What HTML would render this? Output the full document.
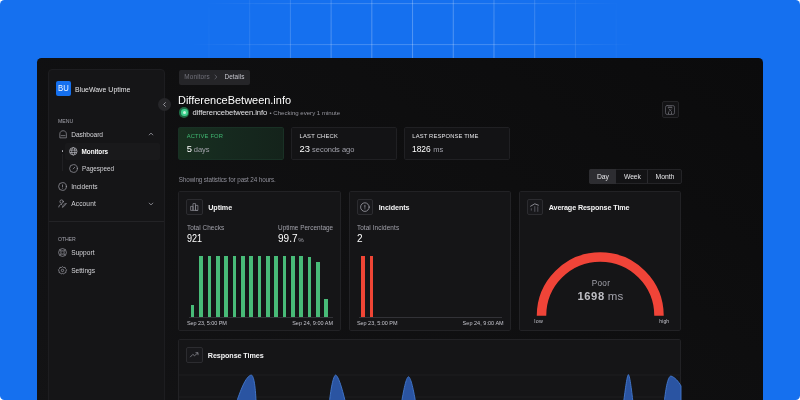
<!DOCTYPE html>
<html lang="en">
<head>
<meta charset="utf-8">
<title>BlueWave Uptime - Monitor details</title>
<style>
*{box-sizing:border-box;margin:0;padding:0}
html,body{width:800px;height:400px;overflow:hidden;background:#fff}
body{font-family:"Liberation Sans",sans-serif;position:relative}
.a{position:absolute}
.t{position:absolute;white-space:nowrap;display:block}
#bg{left:0;top:0;width:800px;height:400px;background:#1570ef;border-radius:4.5px;overflow:hidden}
#grid{left:0;top:0;width:800px;height:60px;
 background-image:
  linear-gradient(to right,rgba(255,255,255,.27) 0,rgba(255,255,255,.27) 1px,transparent 1px),
  linear-gradient(to bottom,rgba(255,255,255,.22) 0,rgba(255,255,255,.22) 1px,transparent 1px);
 background-size:40.73px 41px,40.73px 41px;
 background-position:4.87px 0,0 3.1px;
 -webkit-mask-image:radial-gradient(ellipse 225px 150px at 413px 58px,#000 0%,rgba(0,0,0,.95) 35%,rgba(0,0,0,.6) 62%,rgba(0,0,0,.22) 84%,transparent 100%);
 mask-image:radial-gradient(ellipse 225px 150px at 413px 58px,#000 0%,rgba(0,0,0,.95) 35%,rgba(0,0,0,.6) 62%,rgba(0,0,0,.22) 84%,transparent 100%);
}
#win{left:36.7px;top:57.8px;width:726.5px;height:360px;border-radius:4.5px 4.5px 0 0;
 background:linear-gradient(215deg,#0b0b0c 0%,#0e0e0f 35%,#131315 100%)}
#side{left:48px;top:68.5px;width:117px;height:350px;border:1px solid #1d1d20;border-radius:4px 4px 0 0;background:#151517}
#logo{left:56px;top:81px;width:15.2px;height:15px;border-radius:2px;background:#1570ef;color:#f0f6ff;font-size:9.2px;line-height:15.2px;text-align:center}
#logo span{display:inline-block;transform:scaleX(.84)}
#collapse{left:158.2px;top:98.1px;width:13px;height:13px;border-radius:50%;background:#262629}
#rowhl{left:64.5px;top:142.5px;width:95.5px;height:17.2px;border-radius:2px;background:#19191b}
#treedot{left:61.5px;top:150.3px;width:1.4px;height:1.4px;border-radius:50%;background:#b4b4bc}
#treeline{left:61.8px;top:153.5px;width:.8px;height:17px;background:#202023}
#sdiv{left:49px;top:221px;width:115px;height:1px;background:#232326}
.icon{position:absolute;overflow:visible}
#crumb{left:178.5px;top:69.5px;width:71.5px;height:15.2px;border-radius:2px;background:#252528}
.card{position:absolute;border:1px solid #222225;border-radius:1.8px;background:#151517}
.ibox{position:absolute;width:16.5px;height:16px;border:1px solid #2c2c30;border-radius:2px;background:#18181b}
#seg{left:589.3px;top:169.1px;width:92.3px;height:14.7px;border:1px solid #242427;border-radius:2px;background:#131315}
#segday{left:589.3px;top:169.1px;width:26.5px;height:14.7px;border-radius:2px 0 0 2px;background:#2d2d31}
.bar{position:absolute;width:3.7px;bottom:0}
</style>
</head>
<body>
<div id="bg" class="a">
<div id="grid" class="a"></div>
<div id="win" class="a"></div>
</div>
<div id="side" class="a"></div>
<div id="logo" class="a"><span>BU</span></div>
<div id="sdiv" class="a"></div>
<div id="rowhl" class="a"></div>
<div id="treedot" class="a"></div>
<div id="treeline" class="a"></div>
<div id="collapse" class="a"></div>
<svg class="icon" style="left:158.2px;top:98.1px" width="13" height="13" viewBox="0 0 13 13"><path d="M7.4 4.6 L5.5 6.5 L7.4 8.4" fill="none" stroke="#a8a8b0" stroke-width="0.85" stroke-linecap="round" stroke-linejoin="round"/></svg>

<!-- sidebar icons -->
<svg class="icon" style="left:58.9px;top:129.9px" width="8.2" height="8.2" viewBox="0 0 9 9" fill="none" stroke="#9c9ca4" stroke-width="0.72" stroke-linejoin="round" stroke-linecap="round"><path d="M0.9 8.2 V4.3 C0.9 2.2 2.5 0.8 4.5 0.8 C6.5 0.8 8.1 2.2 8.1 4.3 V8.2 Z"/><path d="M2.4 6.2 H6.6"/></svg>
<svg class="icon" style="left:148.1px;top:131.4px" width="6" height="6" viewBox="0 0 6 6" fill="none" stroke="#a1a1aa" stroke-width="0.8" stroke-linecap="round" stroke-linejoin="round"><path d="M1.2 3.9 L3 2.1 L4.8 3.9"/></svg>
<svg class="icon" style="left:69.1px;top:147.1px" width="8.6" height="8.6" viewBox="0 0 9 9" fill="none" stroke="#c0c0c8" stroke-width="0.7"><circle cx="4.5" cy="4.5" r="3.9"/><ellipse cx="4.5" cy="4.5" rx="1.7" ry="3.9"/><path d="M0.8 3.3 H8.2 M0.8 5.7 H8.2"/></svg>
<svg class="icon" style="left:69.1px;top:164.3px" width="9" height="9" viewBox="0 0 9 9" fill="none" stroke="#9c9ca4" stroke-width="0.72" stroke-linecap="round"><circle cx="4.5" cy="4.5" r="3.9"/><path d="M4.2 4.9 L5.8 3.2"/></svg>
<svg class="icon" style="left:58.4px;top:181.6px" width="9" height="9" viewBox="0 0 9 9" fill="none" stroke="#9c9ca4" stroke-width="0.72" stroke-linecap="round"><circle cx="4.5" cy="4.5" r="3.9"/><path d="M4.5 2.9 V4.7 M4.5 6.1 V6.2"/></svg>
<svg class="icon" style="left:58.4px;top:199.2px" width="9" height="9" viewBox="0 0 9 9" fill="none" stroke="#9c9ca4" stroke-width="0.72" stroke-linecap="round" stroke-linejoin="round"><circle cx="3.6" cy="2.6" r="1.7"/><path d="M0.8 8 C0.9 6.2 2 5.4 3.6 5.4"/><path d="M4.6 8 L5.1 6.5 L7.6 4 L8.4 4.8 L5.9 7.3 Z"/></svg>
<svg class="icon" style="left:147.8px;top:200.6px" width="6" height="6" viewBox="0 0 6 6" fill="none" stroke="#a1a1aa" stroke-width="0.8" stroke-linecap="round" stroke-linejoin="round"><path d="M1.2 2.1 L3 3.9 L4.8 2.1"/></svg>
<svg class="icon" style="left:58.4px;top:248.2px" width="9" height="9" viewBox="0 0 9 9" fill="none" stroke="#9c9ca4" stroke-width="0.72"><circle cx="4.5" cy="4.5" r="3.9"/><rect x="2.9" y="2.9" width="3.2" height="3.2" rx="0.5"/><path d="M1.8 1.8 L2.9 2.9 M7.2 1.8 L6.1 2.9 M1.8 7.2 L2.9 6.1 M7.2 7.2 L6.1 6.1"/></svg>
<svg class="icon" style="left:58.4px;top:265.7px" width="9" height="9" viewBox="0 0 9 9" fill="none" stroke="#9c9ca4" stroke-width="0.72" stroke-linejoin="round"><path d="M4.5 0.6 L5.6 1.5 L7.1 1.4 L7.5 2.8 L8.6 3.8 L7.9 5.1 L8 6.5 L6.6 6.9 L5.6 8 L4.5 7.4 L3.4 8 L2.4 6.9 L1 6.5 L1.1 5.1 L0.4 3.8 L1.5 2.8 L1.9 1.4 L3.4 1.5 Z"/><circle cx="4.5" cy="4.4" r="1.2"/></svg>

<!-- breadcrumb -->
<div id="crumb" class="a"></div>
<svg class="icon" style="left:213.2px;top:74.2px" width="6" height="6" viewBox="0 0 6 6" fill="none" stroke="#71717a" stroke-width="0.7" stroke-linecap="round" stroke-linejoin="round"><path d="M2 1.2 L3.9 3 L2 4.8"/></svg>

<!-- status dot -->
<div class="a" style="left:179.3px;top:107.4px;width:10.2px;height:10.2px;border-radius:50%;background:#1f6b45"></div>
<div class="a" style="left:181.1px;top:109.2px;width:6.6px;height:6.6px;border-radius:50%;background:#3ecf8e"></div>
<div class="a" style="left:182.9px;top:111px;width:3px;height:3px;border-radius:50%;background:#c8f5dd"></div>

<!-- top-right icon button -->
<div class="ibox" style="left:662.3px;top:101.2px;width:16.8px;height:16.8px;background:#131315;border-color:#252528"></div>
<svg class="icon" style="left:664.8px;top:105.1px" width="10" height="10" viewBox="0 0 10 10" fill="none" stroke="#64646c" stroke-width="0.75" stroke-linecap="round" stroke-linejoin="round"><rect x="0.5" y="0.5" width="9" height="9" rx="1.7"/><path d="M3.2 2.2 H6.9" stroke="#9a9aa2"/><path d="M3.9 3.9 L6.6 6.6 M6.6 3.9 L3.9 6.6"/><circle cx="3.5" cy="8" r="0.6" fill="#b4b4bc" stroke="none"/><circle cx="6.5" cy="8" r="0.6" fill="#b4b4bc" stroke="none"/></svg>

<!-- stat cards -->
<div class="card" style="left:178.3px;top:127px;width:105.5px;height:33px;border-color:#193125;background:linear-gradient(90deg,#18301f 0%,#162a1f 40%,#14231b 100%)"></div>
<div class="card" style="left:291.2px;top:127px;width:105.4px;height:33px;background:#131315;border-color:#202023"></div>
<div class="card" style="left:404px;top:127px;width:105.5px;height:33px;background:#131315;border-color:#202023"></div>

<!-- segmented control -->
<div id="seg" class="a"></div>
<div id="segday" class="a"></div>
<div class="a" style="left:647.3px;top:169.7px;width:1px;height:13.4px;background:#2a2a2e"></div>

<!-- main cards -->
<div class="card" style="left:178.2px;top:191px;width:162.6px;height:140.2px"></div>
<div class="card" style="left:348.8px;top:191px;width:162.5px;height:140.2px"></div>
<div class="card" style="left:519.1px;top:191px;width:162.4px;height:140.2px"></div>
<div class="card" style="left:178.2px;top:338.9px;width:503.3px;height:80px"></div>

<div class="ibox" style="left:186px;top:199.2px"></div>
<div class="ibox" style="left:356.7px;top:199.2px"></div>
<div class="ibox" style="left:527.3px;top:199.2px;width:15.6px"></div>
<div class="ibox" style="left:186px;top:347px;width:16.8px;height:16.4px"></div>
<!-- card icons -->
<svg class="icon" style="left:186.2px;top:199px" width="16.5" height="16" viewBox="0 0 16.5 16" fill="none" stroke="#8e8e96" stroke-width="0.72" stroke-linejoin="round"><path d="M4.6 11.4 V7.4 H7 V11.4 M7 11.4 V4.6 H9.5 V11.4 M9.5 11.4 V6.4 H11.9 V11.4 Z M4.6 11.4 H11.9"/></svg>
<svg class="icon" style="left:356.6px;top:199px" width="16.5" height="16" viewBox="0 0 16.5 16" fill="none" stroke="#a1a1aa" stroke-width="0.8" stroke-linecap="round"><circle cx="7.9" cy="8.1" r="4.3"/><path d="M7.9 6.3 V8.3 M7.9 9.8 V9.9"/></svg>
<svg class="icon" style="left:527.1px;top:199.2px" width="16.5" height="16" viewBox="0 0 16.5 16" fill="none" stroke="#a6a6ae" stroke-width="0.8" stroke-linecap="round" stroke-linejoin="round"><path d="M3.6 7.2 L7.8 4.8 L11.4 6.2"/><path d="M4.3 9.7 V11.2 M7.8 7.6 V12.4 M10.8 7.8 V12.4" stroke="#66666e"/></svg>
<svg class="icon" style="left:186.1px;top:347.1px" width="16.5" height="16" viewBox="0 0 16.5 16" fill="none" stroke="#8e8e96" stroke-width="0.75" stroke-linecap="round" stroke-linejoin="round"><path d="M4.4 9.9 L6.8 7.4 L8.6 8.7 L11.8 5.9"/><path d="M9.9 5.7 H12 V7.8"/></svg>

<!-- uptime bars -->
<div class="a" style="left:189px;top:316.6px;width:143.5px;height:1px;background:#323237"></div>
<div class="a" id="ubars" style="left:0;top:255.6px;width:800px;height:61px">
<div class="bar" style="left:190.8px;height:11.5px;background:#48bb78"></div>
<div class="bar" style="left:199.15px;height:61px;background:#48bb78"></div>
<div class="bar" style="left:207.5px;height:61px;background:#48bb78"></div>
<div class="bar" style="left:215.85px;height:61px;background:#48bb78"></div>
<div class="bar" style="left:224.2px;height:61px;background:#48bb78"></div>
<div class="bar" style="left:232.55px;height:61px;background:#48bb78"></div>
<div class="bar" style="left:240.9px;height:61px;background:#48bb78"></div>
<div class="bar" style="left:249.25px;height:61px;background:#48bb78"></div>
<div class="bar" style="left:257.6px;height:61px;background:#48bb78"></div>
<div class="bar" style="left:265.95px;height:61px;background:#48bb78"></div>
<div class="bar" style="left:274.3px;height:61px;background:#48bb78"></div>
<div class="bar" style="left:282.65px;height:61px;background:#48bb78"></div>
<div class="bar" style="left:291px;height:61px;background:#48bb78"></div>
<div class="bar" style="left:299.35px;height:61px;background:#48bb78"></div>
<div class="bar" style="left:307.7px;height:59.7px;background:#48bb78"></div>
<div class="bar" style="left:316.05px;height:54.7px;background:#48bb78"></div>
<div class="bar" style="left:324.4px;height:17.4px;background:#48bb78"></div>
</div>
<!-- incident bars -->
<div class="a" style="left:359px;top:316.6px;width:142.5px;height:1px;background:#323237"></div>
<div class="a" style="left:0;top:255.6px;width:800px;height:61px">
<div class="bar" style="left:361.15px;height:61px;background:#ef4535"></div>
<div class="bar" style="left:369.5px;height:61px;background:#ef4535"></div>
</div>

<!-- gauge -->
<svg class="icon" style="left:530px;top:245px" width="140" height="75" viewBox="530 245 140 75"><path d="M541.5 315.8 A58.75 58.75 0 0 1 659 315.8" fill="none" stroke="#f04438" stroke-width="9.5"/></svg>

<!-- response time chart -->
<svg class="icon" style="left:179.4px;top:366px" width="502" height="34" viewBox="179.4 366 502 34">
<path d="M179.4 375 H681 M179.4 397 H681" stroke="#212124" stroke-width="0.8" fill="none"/>
<g fill="#2a54a2" stroke="#4379d0" stroke-width="0.9" stroke-linejoin="round">
<path d="M236 405 C241 390 246 376.5 251.6 375 C254.5 375.5 256 388 256.6 405 Z"/>
<path d="M329.5 405 C331 390 333.5 376 336 375 C339 376 343 390 346.5 405 Z"/>
<path d="M401.5 405 C404 390 406.5 377.5 408.9 376.7 C411.3 377.5 414 390 416.5 405 Z"/>
<path d="M623.6 405 C625.4 392 627.2 376 628.8 374.6 C630.4 376 632.2 392 633.7 405 Z"/>
<path d="M664.4 405 C665.8 390 668 377 671.2 376 C675 377 679 381.5 681.4 386 L681.4 405 Z"/>
</g>
</svg>

<div id="txt" class="a" style="left:0;top:0;width:800px;height:400px;will-change:transform">
<span class="t" style="left:75px;top:85.68px;font-size:7.2px;line-height:8.64px;font-weight:400;color:#e4e4e7;letter-spacing:0px;transform:scaleX(0.9673);transform-origin:0 50%;">BlueWave Uptime</span>
<span class="t" style="left:58px;top:117.78px;font-size:5.2px;line-height:6.24px;font-weight:400;color:#a1a1aa;letter-spacing:-0.002px;">MENU</span>
<span class="t" style="left:71.2px;top:130.54px;font-size:6.6px;line-height:7.92px;font-weight:400;color:#d4d4d8;letter-spacing:-0.06px;">Dashboard</span>
<span class="t" style="left:81.6px;top:147.66px;font-size:6.4px;line-height:7.68px;font-weight:700;color:#ffffff;letter-spacing:-0.06px;">Monitors</span>
<span class="t" style="left:81.6px;top:164.94px;font-size:6.6px;line-height:7.92px;font-weight:400;color:#d4d4d8;letter-spacing:0px;transform:scaleX(0.9626);transform-origin:0 50%;">Pagespeed</span>
<span class="t" style="left:71.2px;top:182.54px;font-size:6.6px;line-height:7.92px;font-weight:400;color:#d4d4d8;letter-spacing:0.002px;">Incidents</span>
<span class="t" style="left:71.2px;top:199.64px;font-size:6.6px;line-height:7.92px;font-weight:400;color:#d4d4d8;letter-spacing:0.128px;">Account</span>
<span class="t" style="left:58px;top:235.78px;font-size:5.2px;line-height:6.24px;font-weight:400;color:#a1a1aa;letter-spacing:-0.117px;">OTHER</span>
<span class="t" style="left:71.2px;top:248.74px;font-size:6.6px;line-height:7.92px;font-weight:400;color:#d4d4d8;letter-spacing:0.06px;">Support</span>
<span class="t" style="left:71.2px;top:266.74px;font-size:6.6px;line-height:7.92px;font-weight:400;color:#d4d4d8;letter-spacing:-0.0px;">Settings</span>
<span class="t" style="left:184.25px;top:73.36px;font-size:6.4px;line-height:7.68px;font-weight:400;color:#71717a;letter-spacing:0.149px;">Monitors</span>
<span class="t" style="left:224.5px;top:73.36px;font-size:6.4px;line-height:7.68px;font-weight:400;color:#c4c4cc;letter-spacing:0.058px;">Details</span>
<span class="t" style="left:178.0px;top:93.14px;font-size:11.6px;line-height:13.92px;font-weight:400;color:#ffffff;letter-spacing:0px;transform:scaleX(0.9445);transform-origin:0 50%;">DifferenceBetween.info</span>
<span class="t" style="left:192.5px;top:107.94px;font-size:7.6px;line-height:9.12px;font-weight:400;color:#e4e4e7;letter-spacing:-0.077px;">differencebetween.info</span>
<span class="t" style="left:269.5px;top:109.14px;font-size:6.1px;line-height:7.32px;font-weight:400;color:#96969e;letter-spacing:-0.009px;">&bull; Checking every 1 minute</span>
<span class="t" style="left:186.75px;top:133.02px;font-size:5.8px;line-height:6.96px;font-weight:400;color:#40b872;letter-spacing:0.159px;">ACTIVE FOR</span>
<span class="t" style="left:186.75px;top:143.36px;font-size:9.4px;line-height:11.28px;font-weight:400;color:#ffffff;letter-spacing:0.415px;">5</span>
<span class="t" style="left:193.75px;top:144.6px;font-size:7.5px;line-height:9.0px;font-weight:400;color:#a1a1aa;letter-spacing:-0.005px;">days</span>
<span class="t" style="left:299.5px;top:133.02px;font-size:5.8px;line-height:6.96px;font-weight:400;color:#e4e4e7;letter-spacing:0.234px;">LAST CHECK</span>
<span class="t" style="left:299.5px;top:143.36px;font-size:9.4px;line-height:11.28px;font-weight:400;color:#ffffff;letter-spacing:0.098px;">23</span>
<span class="t" style="left:312.1px;top:144.6px;font-size:7.5px;line-height:9.0px;font-weight:400;color:#a1a1aa;letter-spacing:-0.029px;">seconds ago</span>
<span class="t" style="left:412.3px;top:133.02px;font-size:5.8px;line-height:6.96px;font-weight:400;color:#e4e4e7;letter-spacing:0.153px;">LAST RESPONSE TIME</span>
<span class="t" style="left:412.3px;top:143.36px;font-size:9.4px;line-height:11.28px;font-weight:400;color:#ffffff;letter-spacing:0px;transform:scaleX(0.8981);transform-origin:0 50%;">1826</span>
<span class="t" style="left:433.3px;top:144.6px;font-size:7.5px;line-height:9.0px;font-weight:400;color:#a1a1aa;letter-spacing:-0.088px;">ms</span>
<span class="t" style="left:178.75px;top:175.92px;font-size:6.3px;line-height:7.56px;font-weight:400;color:#90909a;letter-spacing:-0.105px;">Showing statistics for past 24 hours.</span>
<span class="t" style="left:597px;top:172.62px;font-size:6.8px;line-height:8.16px;font-weight:400;color:#e4e4e7;letter-spacing:-0.115px;">Day</span>
<span class="t" style="left:624px;top:172.62px;font-size:6.8px;line-height:8.16px;font-weight:400;color:#e4e4e7;letter-spacing:-0.104px;">Week</span>
<span class="t" style="left:655.6px;top:172.62px;font-size:6.8px;line-height:8.16px;font-weight:400;color:#e4e4e7;letter-spacing:-0.049px;">Month</span>
<span class="t" style="left:208.25px;top:203.78px;font-size:7.2px;line-height:8.64px;font-weight:700;color:#f4f4f5;letter-spacing:-0.097px;">Uptime</span>
<span class="t" style="left:186.9px;top:224.16px;font-size:6.4px;line-height:7.68px;font-weight:400;color:#a1a1aa;letter-spacing:0.059px;">Total Checks</span>
<span class="t" style="left:186.9px;top:233.0px;font-size:10px;line-height:12.0px;font-weight:400;color:#ffffff;letter-spacing:0px;transform:scaleX(0.9049);transform-origin:0 50%;">921</span>
<span class="t" style="left:278px;top:224.16px;font-size:6.4px;line-height:7.68px;font-weight:400;color:#a1a1aa;letter-spacing:0.029px;">Uptime Percentage</span>
<span class="t" style="left:278px;top:233.0px;font-size:10px;line-height:12.0px;font-weight:400;color:#ffffff;letter-spacing:0.033px;">99.7</span>
<span class="t" style="left:298.25px;top:236.28px;font-size:6.2px;line-height:7.44px;font-weight:400;color:#a1a1aa;letter-spacing:0.766px;">%</span>
<span class="t" style="left:186.9px;top:319.7px;font-size:5.5px;line-height:6.6px;font-weight:400;color:#c4c4cc;letter-spacing:-0.065px;">Sep 23, 5:00 PM</span>
<span class="t" style="left:292.2px;top:319.7px;font-size:5.5px;line-height:6.6px;font-weight:400;color:#c4c4cc;letter-spacing:0.016px;">Sep 24, 9:00 AM</span>
<span class="t" style="left:378.7px;top:203.78px;font-size:7.2px;line-height:8.64px;font-weight:700;color:#f4f4f5;letter-spacing:-0.086px;">Incidents</span>
<span class="t" style="left:356.9px;top:224.16px;font-size:6.4px;line-height:7.68px;font-weight:400;color:#a1a1aa;letter-spacing:0.096px;">Total Incidents</span>
<span class="t" style="left:356.9px;top:233.0px;font-size:10px;line-height:12.0px;font-weight:400;color:#ffffff;letter-spacing:0.438px;">2</span>
<span class="t" style="left:356.9px;top:319.7px;font-size:5.5px;line-height:6.6px;font-weight:400;color:#c4c4cc;letter-spacing:-0.025px;">Sep 23, 5:00 PM</span>
<span class="t" style="left:462.6px;top:319.7px;font-size:5.5px;line-height:6.6px;font-weight:400;color:#c4c4cc;letter-spacing:0.029px;">Sep 24, 9:00 AM</span>
<span class="t" style="left:548.7px;top:203.78px;font-size:7.2px;line-height:8.64px;font-weight:700;color:#f4f4f5;letter-spacing:-0.11px;">Average Response Time</span>
<span class="t" style="left:591.75px;top:279.28px;font-size:8.2px;line-height:9.84px;font-weight:400;color:#a1a1aa;letter-spacing:0.276px;">Poor</span>
<span class="t" style="left:577.5px;top:290.28px;font-size:11.2px;line-height:13.44px;font-weight:700;color:#bebec4;letter-spacing:0.585px;">1698</span>
<span class="t" style="left:607.7px;top:290.1px;font-size:11.5px;line-height:13.8px;font-weight:400;color:#a1a1aa;letter-spacing:0.261px;">ms</span>
<span class="t" style="left:534.25px;top:318.07px;font-size:5.3px;line-height:6.36px;font-weight:400;color:#c4c4cc;letter-spacing:0.293px;">low</span>
<span class="t" style="left:659.25px;top:318.25px;font-size:5.0px;line-height:6.0px;font-weight:400;color:#c4c4cc;letter-spacing:0.149px;">high</span>
<span class="t" style="left:207.8px;top:351.98px;font-size:7.2px;line-height:8.64px;font-weight:700;color:#f4f4f5;letter-spacing:-0.086px;">Response Times</span>
</div>

</body>
</html>
